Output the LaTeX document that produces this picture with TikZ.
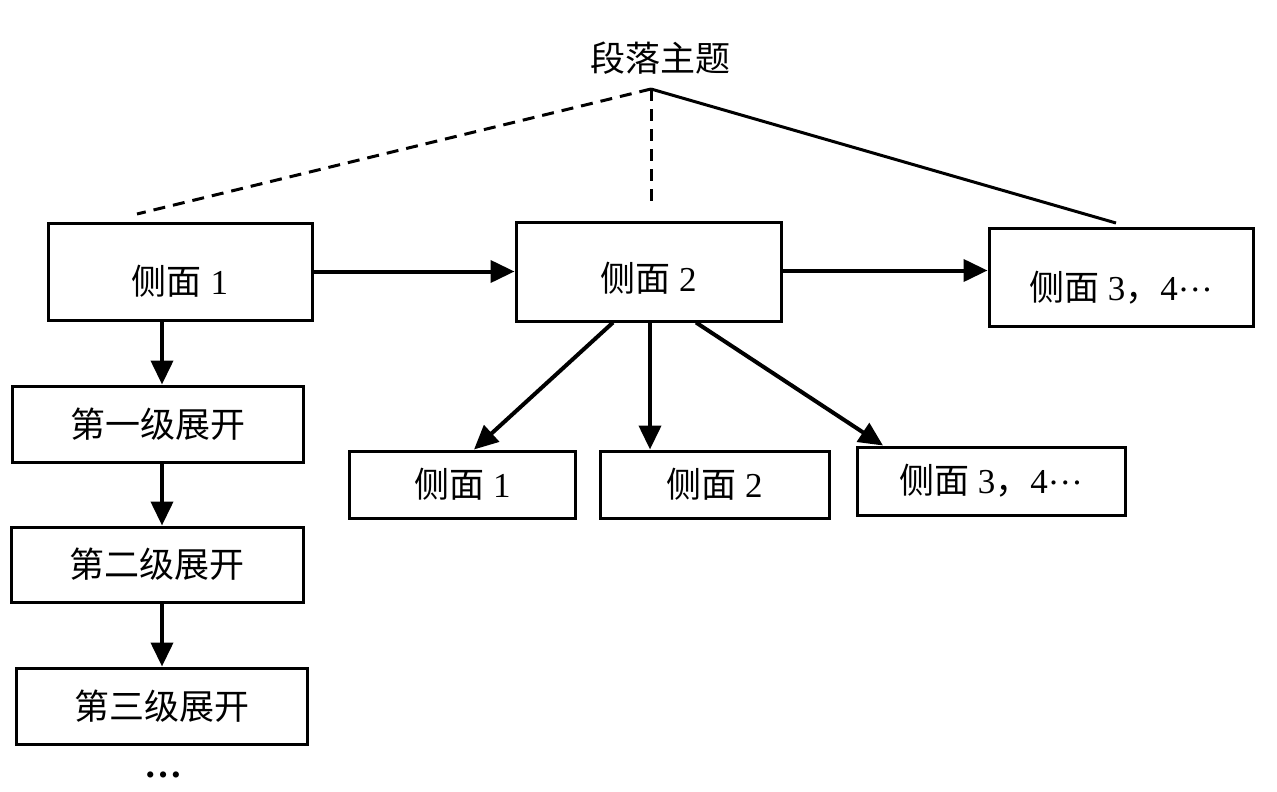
\documentclass[tikz,border=0pt]{standalone}
\usepackage{fontspec}
\setmainfont{Liberation Serif}
\newfontfamily\cjk{Noto Sans CJK SC}
\usetikzlibrary{arrows.meta}
\newcommand{\mdots}{\raisebox{9pt}{…}}
\newcommand{\lowered}[2]{\raisebox{-#1}[0pt][0pt]{#2}}
\begin{document}
\begin{tikzpicture}[x=1pt,y=-1pt,
  box/.style={draw=black,line width=3pt,rectangle,inner sep=0pt,align=center,
    font=\fontsize{35}{40}\selectfont},
  arr/.style={line width=4pt,-{Triangle[length=24pt,width=22pt]}},
  thin/.style={line width=3pt}]
\useasboundingbox (0,0) rectangle (1277,792);
\node[font=\fontsize{35}{40}\selectfont] (title) at (660,58) {\cjk 段落主题};
\node[box,minimum width=264pt,minimum height=97pt] (b1) at (180,271.5) {\lowered{23pt}{{\cjk 侧面} 1}};
\node[box,minimum width=265pt,minimum height=99pt] (b2) at (648.5,271.5) {\lowered{20pt}{{\cjk 侧面} 2}};
\node[box,minimum width=264pt,minimum height=98pt] (b3) at (1121,277) {\lowered{23pt}{{\cjk 侧面} 3{\cjk ，}4\mdots}};
\node[box,minimum width=291pt,minimum height=76pt] (l1) at (157.5,424) {\cjk 第一级展开};
\node[box,minimum width=292pt,minimum height=75pt] (l2) at (157,564.5) {\cjk 第二级展开};
\node[box,minimum width=291pt,minimum height=76pt] (l3) at (161.5,706) {\cjk 第三级展开};
\node[box,minimum width=226pt,minimum height=67pt] (c1) at (462.5,484.5) {{\cjk 侧面} 1};
\node[box,minimum width=229pt,minimum height=67pt] (c2) at (714.5,484.5) {{\cjk 侧面} 2};
\node[box,minimum width=268pt,minimum height=68pt] (c3) at (991,481) {{\cjk 侧面} 3{\cjk ，}4\mdots};
\node[font=\fontsize{38}{40}\selectfont\bfseries] (dots) at (163,775) {…};
% topic lines
\coordinate (apex) at (651,89);
\coordinate (e1) at (137,214);
\coordinate (e2) at (651,208);
\coordinate (e3) at (1116,223);
\draw[thin,dash pattern=on 12pt off 8pt] (apex) -- (e1);
\draw[thin,dash pattern=on 12pt off 8pt] (apex) -- (e2);
\draw[thin] (apex) -- (e3);
% horizontal arrows
\draw[arr] (b1.east) -- (b2.west);
\draw[arr] ([yshift=1pt]b2.east) -- ([yshift=1pt]b2.east -| b3.west);
% vertical chain
\draw[arr] ([xshift=-18pt]b1.south) -- ([xshift=-18pt]b1.south |- l1.north);
\draw[arr] ([xshift=4.5pt]l1.south) -- ([xshift=4.5pt]l1.south |- l2.north);
\draw[arr] ([xshift=5pt]l2.south) -- ([xshift=5pt]l2.south |- l3.north);
% children of b2
\draw[arr] ([xshift=-35.5pt]b2.south) -- ([xshift=11.5pt]c1.north);
\draw[arr] ([xshift=1.5pt]b2.south) -- ([xshift=-64.5pt]c2.north);
\draw[arr] ([xshift=47.5pt]b2.south) -- ([xshift=-108pt]c3.north);
\end{tikzpicture}
\end{document}
